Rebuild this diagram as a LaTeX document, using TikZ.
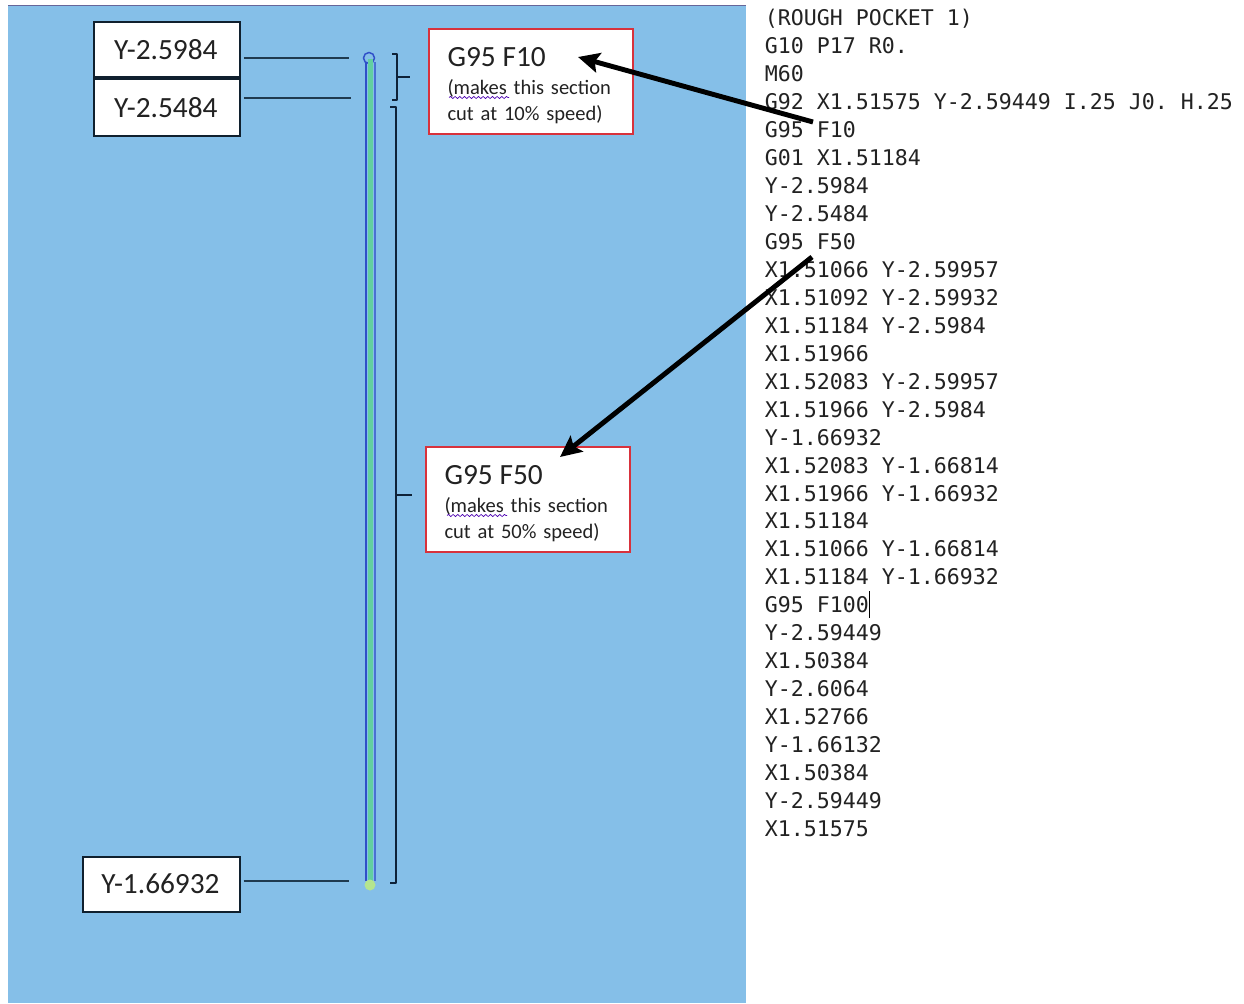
\documentclass[tikz,border=0pt]{standalone}
\usepackage{fontspec}
\setmainfont{Carlito}
\setmonofont{DejaVu Sans Mono}
\usetikzlibrary{arrows.meta,decorations.pathmorphing}
\definecolor{panel}{HTML}{85BFE8}
\definecolor{boxred}{HTML}{D8323C}
\definecolor{tube}{HTML}{2F4FC8}
\definecolor{fillgreen}{HTML}{62CFA0}
\definecolor{dot}{HTML}{B5E58F}
\definecolor{brace}{HTML}{0E2238}
\definecolor{leader}{HTML}{1F3A4F}
\definecolor{ink}{HTML}{222222}
\definecolor{boxline}{HTML}{10202E}
\tikzset{
  ylabel/.style={draw=boxline,line width=1.5pt,fill=white,inner sep=0pt,text=ink,font=\fontsize{22}{24}\selectfont,anchor=north west},
  note/.style={draw=boxred,line width=1.5pt,fill=white,inner sep=0pt,anchor=north west,minimum width=153.5pt,minimum height=79pt,text width=125pt,align=left,text=ink,font=\fontsize{15.4}{19.5}\selectfont},
  code/.style={anchor=base west,inner sep=0pt,text=ink,font=\ttfamily\fontsize{16.2}{18}\selectfont},
  leaderline/.style={draw=leader,line width=0.8pt},
  bracket/.style={draw=brace,line width=1.5pt,line join=round},
  fat/.style={draw=black,line width=3.7pt,-{Stealth[length=16pt,width=15pt,inset=3pt]}},
  squiggle/.style={draw=violet!60!blue,line width=0.5pt,decorate,decoration={snake,amplitude=0.8pt,segment length=3.5pt}}
}
\newcommand{\notetext}[1]{\rule{0pt}{21pt}{\fontsize{22}{24}\selectfont G95\ F#1}\\[2pt](makes this section\\cut at #1\% speed)}
\begin{document}
\begin{tikzpicture}[x=0.75pt,y=-0.75pt]
\useasboundingbox (0,0) rectangle (1244,1003);
\fill[white] (0,0) rectangle (1244,1003);
\fill[panel] (8,6) rectangle (746,1003);
\draw[gray!80!blue,line width=1pt] (8,5.5) -- (746,5.5);

% tool path
\fill[fillgreen] (368,60) rectangle (373,884);
\draw[tube,line width=1.1pt] (366,62) -- (366,881);
\draw[tube!70!panel,line width=1.1pt] (375,62) -- (375,881);
\draw[tube,line width=1.1pt] (369,58) circle[radius=5.5];
\fill[fillgreen] (368,59) rectangle (373,66);
\fill[dot] (370,885) circle[radius=5.5];

% label boxes
\node[ylabel,minimum width=110pt,minimum height=41.5pt] (la) at (92.5,20.5) {\kern-1.5pt Y-2.5984};
\node[ylabel,minimum width=110pt,minimum height=42.5pt] (lb) at (92.5,78) {\kern-1.5pt Y-2.5484};
\node[ylabel,minimum width=118pt,minimum height=41.5pt] (lc) at (81.5,855.5) {\kern-1pt Y-1.66932};

% leader lines
\coordinate (ta) at (349,58);
\coordinate (tb) at (351,98);
\coordinate (tc) at (349,881);
\draw[leaderline,shorten <=2pt] (la.east |- ta) -- (ta);
\draw[leaderline,shorten <=2pt] (lb.east |- tb) -- (tb);
\draw[leaderline,shorten <=2pt] (lc.east |- tc) -- (tc);

% brackets
\draw[bracket] (392,54) -- (397,54) -- (397,100) -- (392,100);
\draw[bracket] (397,77) -- (410,77);
\draw[bracket] (390,107) -- (396,107) -- (396,883) -- (390,883);
\draw[bracket] (396,495) -- (412,495);

% notes
\node[note] (na) at (427.5,27.5) {\notetext{10}};
\node[note] (nb) at (424.5,445.5) {\notetext{50}};
\draw[squiggle] (449,97.5) -- (509,97.5);
\draw[squiggle] (447,515.5) -- (507,515.5);

% code
\foreach \n/\t in {0/{(ROUGH POCKET 1)},1/{G10 P17 R0.},2/{M60},
  3/{G92 X1.51575 Y-2.59449 I.25 J0. H.25},4/{G95 F10},5/{G01 X1.51184},
  6/{Y-2.5984},7/{Y-2.5484},8/{G95 F50},9/{X1.51066 Y-2.59957},
  10/{X1.51092 Y-2.59932},11/{X1.51184 Y-2.5984},12/{X1.51966},
  13/{X1.52083 Y-2.59957},14/{X1.51966 Y-2.5984},15/{Y-1.66932},
  16/{X1.52083 Y-1.66814},17/{X1.51966 Y-1.66932},18/{X1.51184},
  19/{X1.51066 Y-1.66814},20/{X1.51184 Y-1.66932},21/{G95 F100},
  22/{Y-2.59449},23/{X1.50384},24/{Y-2.6064},25/{X1.52766},
  26/{Y-1.66132},27/{X1.50384},28/{Y-2.59449},29/{X1.51575}}
  {\node[code] (c\n) at (764.5,{25.7+27.96*\n}) {\t};}
\draw[black,line width=0.5pt] (c21.east |- 0,591) -- (c21.east |- 0,618);

% arrows
\coordinate (sa) at (813,122);
\coordinate (ea) at (578,57);
\coordinate (sb) at (812,257);
\coordinate (eb) at (560,457);
\draw[fat] (sa) -- (ea);
\draw[fat] (sb) -- (eb);
\end{tikzpicture}
\end{document}
